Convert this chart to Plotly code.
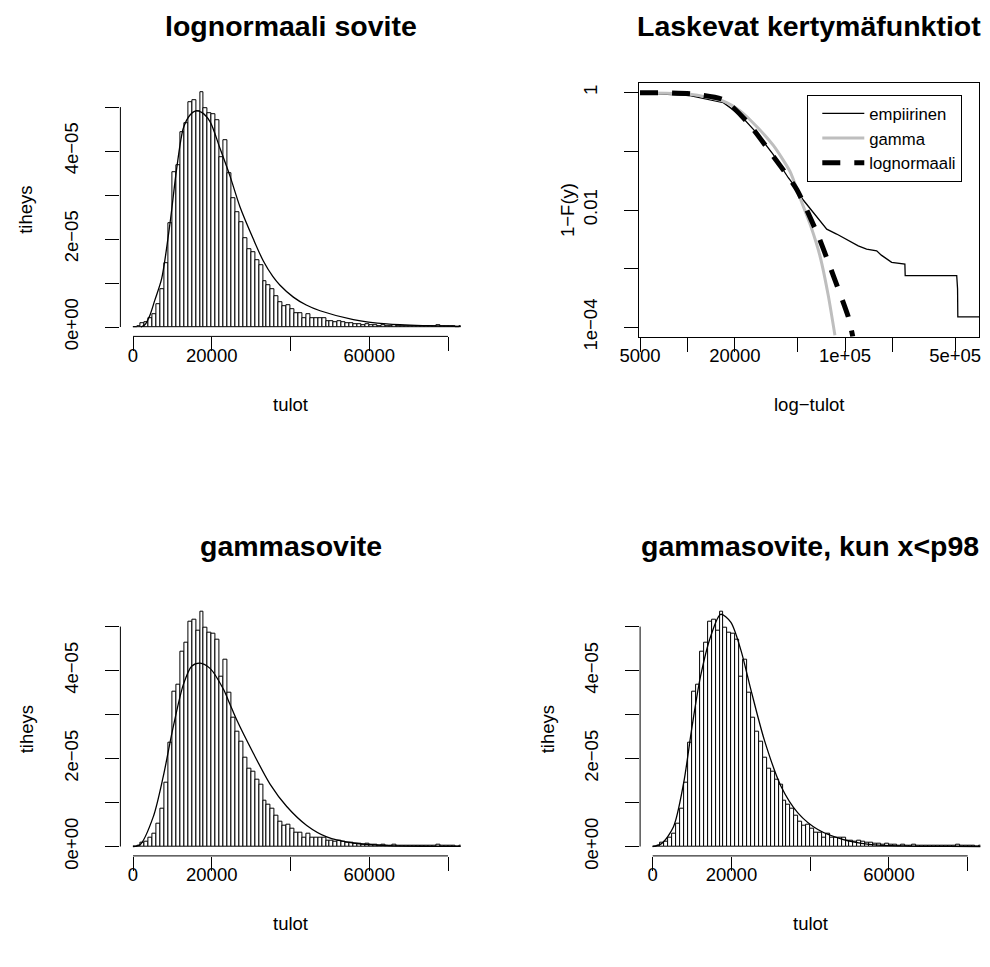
import plotly.graph_objects as go

# ---------------- data ----------------
# histogram of incomes: bin width 1000, density in units of 1e-5
bin_width = 1000
hist_density_e5 = [
    0.00, 0.03, 0.08, 0.12, 0.20, 0.30, 0.52, 0.86, 1.45, 2.36,
    3.51, 3.68, 4.44, 4.64, 5.12, 5.16, 4.90, 5.33, 4.98, 4.87,
    4.84, 4.70, 3.85, 4.25, 3.49, 2.92, 2.60, 2.38, 2.02, 1.78,
    1.69, 1.52, 1.40, 1.05, 0.94, 0.85, 0.70, 0.56, 0.47, 0.50,
    0.40, 0.31, 0.32, 0.21, 0.29, 0.21, 0.20, 0.19, 0.19, 0.13,
    0.13, 0.12, 0.13, 0.11, 0.09, 0.08, 0.07, 0.07, 0.05, 0.06,
    0.05, 0.04, 0.03, 0.04, 0.03, 0.03, 0.05, 0.03, 0.02, 0.03,
    0.02, 0.02, 0.02, 0.01, 0.02, 0.02, 0.01, 0.05, 0.02, 0.01,
    0.01, 0.01, 0.00, 0.01, 0.00,
]

# fitted densities (x in thousands, y in 1e-5)
lognorm_x = [2, 3, 4.3, 5.5, 7.28, 9.4, 11.09, 12.78, 14.48, 15.75, 17.44, 19.56,
             22.1, 24.64, 27.18, 30.56, 33.1, 35.5, 37.34, 40.72, 44, 47.5, 55.96, 64.44, 75, 85]
lognorm_y = [0.0, 0.05, 0.27, 0.6, 1.1, 2.36, 3.6, 4.52, 4.82, 4.91, 4.88, 4.67,
             4.06, 3.43, 2.73, 2.0, 1.5, 1.15, 0.95, 0.68, 0.5, 0.37, 0.17, 0.07, 0.03, 0.01]

gamma_x = [0, 1.78, 5.16, 7.7, 10.24, 12.78, 14.9, 17.02, 19.56, 22.94, 24.6, 26.33,
           30.56, 34.8, 39.04, 44.12, 49.2, 55.96, 65, 75, 85]
gamma_y = [0, 0.04, 0.68, 1.6, 2.73, 3.68, 4.1, 4.17, 4.05, 3.58, 3.24, 2.88,
           2.12, 1.42, 0.91, 0.48, 0.22, 0.08, 0.02, 0.005, 0.001]

gamma98_x = [0, 2.3, 5.28, 7.85, 10.0, 12.13, 14.69, 17.26, 19.82, 22.38, 24.95,
             28.36, 32.64, 36.92, 42.05, 48.0, 55, 65, 75, 85]
gamma98_y = [0, 0.07, 0.45, 1.44, 2.73, 3.86, 4.77, 5.28, 5.1, 4.47, 3.56,
             2.42, 1.36, 0.76, 0.38, 0.17, 0.05, 0.01, 0.002, 0.0]

# survival functions 1-F(y) (top right, log-log)
emp_x = [5000, 10380, 16900, 21580, 27540, 35080, 43650, 46240, 54330, 62810,
         76560, 88510, 104950, 121340, 137090, 150000, 158850, 170000, 183650,
         197700, 239880, 241000, 511700, 512500, 518000, 520000, 720000]
emp_y = [0.995, 0.891, 0.676, 0.419, 0.205, 0.0879, 0.0355, 0.0291, 0.0148, 0.00904,
         0.00471, 0.00389, 0.00299, 0.00245, 0.00216, 0.00210, 0.00202, 0.00170, 0.00146,
         0.00128, 0.0012, 0.00076, 0.00076, 0.000453, 0.000453, 0.000151, 0.000151]

gsurv_x = [5000, 10400, 16900, 21600, 27500, 35100, 44700, 51800, 60000, 69300, 78300, 86300]
gsurv_y = [1.0, 0.94, 0.72, 0.49, 0.265, 0.126, 0.0458, 0.0162, 0.00575, 0.00166, 0.000348, 0.0000731]

lsurv_x = [5000, 10400, 16900, 23800, 35100, 49400, 67600, 84300, 105000, 112000]
lsurv_y = [1.0, 0.955, 0.76, 0.324, 0.0822, 0.0224, 0.00363, 0.000759, 0.00015, 0.00007]

# axis ticks / labels
hist_xticks = [0, 20000, 40000, 60000, 80000]
hist_xlabels = ["0", "20000", "", "60000", ""]
hist_yticks_e5 = [0, 1, 2, 3, 4, 5]
hist_ylabels = ["0e+00", "", "2e\u221205", "", "4e\u221205", ""]
surv_xticks = [5000, 10000, 20000, 50000, 100000, 200000, 500000]
surv_xlabels = ["5000", "", "20000", "", "1e+05", "", "5e+05"]
surv_yticks = [1, 0.1, 0.01, 0.001, 0.0001]
surv_ylabels = ["1", "", "0.01", "", "1e\u221204"]

titles = ["lognormaali sovite", "Laskevat kertym\u00e4funktiot", "gammasovite", "gammasovite, kun x<p98"]

# ---------------- figure ----------------
W, H = 990, 967
FONT = "Liberation Sans, Arial, Helvetica, sans-serif"
TICKF = 18.5

def px_dom_x(a, b):
    return [a / W, b / W]

def px_dom_y(top, bottom):
    return [1 - bottom / H, 1 - top / H]

panels = {
    1: dict(x=px_dom_x(120.4, 460.6), y=px_dom_y(83.2, 336.4)),
    2: dict(x=px_dom_x(639.3, 979.3), y=px_dom_y(83.3, 336.7)),
    3: dict(x=px_dom_x(120.4, 460.6), y=px_dom_y(602.7, 855.9)),
    4: dict(x=px_dom_x(640.1, 980.3), y=px_dom_y(602.7, 855.9)),
}

fig = go.Figure()

bin_centers = [i * bin_width + bin_width / 2 for i in range(len(hist_density_e5))]
hist_density = [v * 1e-5 for v in hist_density_e5]
ymax = max(hist_density)
xlim = (hist_xticks[0], hist_xticks[-1])
xpad = 0.04 * (xlim[1] - xlim[0])

curves = {1: (lognorm_x, lognorm_y), 3: (gamma_x, gamma_y), 4: (gamma98_x, gamma98_y)}
for p in (1, 3, 4):
    xa = "x" if p == 1 else f"x{p}"
    ya = "y" if p == 1 else f"y{p}"
    fig.add_trace(go.Bar(x=bin_centers, y=hist_density, width=bin_width,
                         marker=dict(color="white", line=dict(color="black", width=1)),
                         xaxis=xa, yaxis=ya, showlegend=False, hoverinfo="skip"))
    cx, cy = curves[p]
    fig.add_trace(go.Scatter(x=[v * 1000 for v in cx], y=[v * 1e-5 for v in cy], mode="lines",
                             line=dict(color="black", width=1.3, shape="spline", smoothing=0.8),
                             xaxis=xa, yaxis=ya, showlegend=False, hoverinfo="skip"))

fig.add_trace(go.Scatter(x=emp_x, y=emp_y, mode="lines", name="empiirinen",
                         line=dict(color="black", width=1.3), xaxis="x2", yaxis="y2"))
fig.add_trace(go.Scatter(x=gsurv_x, y=gsurv_y, mode="lines", name="gamma",
                         line=dict(color="#bebebe", width=3, shape="spline", smoothing=0.6),
                         xaxis="x2", yaxis="y2"))
fig.add_trace(go.Scatter(x=lsurv_x, y=lsurv_y, mode="lines", name="lognormaali",
                         line=dict(color="black", width=5, dash="18px,14px", shape="spline", smoothing=0.6),
                         xaxis="x2", yaxis="y2"))

common_tick = dict(ticks="outside", ticklen=14, tickwidth=1, tickcolor="black",
                   showgrid=False, zeroline=False, automargin=False,
                   tickfont=dict(family=FONT, size=TICKF, color="black"))

layout = dict(width=W, height=H, margin=dict(l=0, r=0, t=0, b=0, pad=0, autoexpand=False),
              paper_bgcolor="white", plot_bgcolor="white", bargap=0,
              font=dict(family=FONT, color="black"), showlegend=True,
              legend=dict(x=807.3 / W, y=1 - 95 / H, xanchor="left", yanchor="top",
                          bordercolor="black", borderwidth=1, bgcolor="white",
                          font=dict(family=FONT, size=16.7, color="black"),
                          indentation=9, itemwidth=42, tracegroupgap=0))

XSTANDOFF = -12
YSTANDOFF = 20
shapes = []
for p in (1, 3, 4):
    sx = "" if p == 1 else str(p)
    layout[f"xaxis{sx}"] = dict(domain=panels[p]["x"], anchor=f"y{sx}",
                                range=[xlim[0] - xpad, xlim[1] + xpad],
                                tickvals=hist_xticks, ticktext=hist_xlabels,
                                showline=False, ticklabelstandoff=XSTANDOFF, **common_tick)
    layout[f"yaxis{sx}"] = dict(domain=panels[p]["y"], anchor=f"x{sx}",
                                range=[-0.04 * ymax, 1.04 * ymax],
                                tickvals=[v * 1e-5 for v in hist_yticks_e5], ticktext=hist_ylabels,
                                tickangle=-90, showline=False, ticklabelstandoff=YSTANDOFF, **common_tick)
    shapes.append(dict(type="line", xref=f"x{sx}", yref=f"y{sx} domain",
                       x0=hist_xticks[0], x1=hist_xticks[-1], y0=0, y1=0,
                       line=dict(color="black", width=1)))
    shapes.append(dict(type="line", xref=f"x{sx} domain", yref=f"y{sx}",
                       x0=0, x1=0, y0=hist_yticks_e5[0] * 1e-5, y1=hist_yticks_e5[-1] * 1e-5,
                       line=dict(color="black", width=1)))

layout["xaxis2"] = dict(domain=panels[2]["x"], anchor="y2", type="log", range=[3.6945, 5.8523],
                        tickvals=surv_xticks, ticktext=surv_xlabels,
                        showline=True, mirror=True, linecolor="black", linewidth=1,
                        ticklabelstandoff=XSTANDOFF, **common_tick)
layout["yaxis2"] = dict(domain=panels[2]["y"], anchor="x2", type="log", range=[-4.16, 0.16],
                        tickvals=surv_yticks, ticktext=surv_ylabels, tickangle=-90,
                        showline=True, mirror=True, linecolor="black", linewidth=1,
                        ticklabelstandoff=YSTANDOFF, **common_tick)

annotations = []
centers_x = {p: (panels[p]["x"][0] + panels[p]["x"][1]) / 2 for p in panels}
for i, p in enumerate((1, 2, 3, 4)):
    top_px = 26 if p in (1, 2) else 26 + 519.5
    annotations.append(dict(text=f"<b>{titles[i]}</b>", x=centers_x[p], y=1 - top_px / H,
                            xref="paper", yref="paper", showarrow=False,
                            xanchor="center", yanchor="middle",
                            font=dict(family=FONT, size=28.5, color="black")))
    lab_px = 404 if p in (1, 2) else 404 + 519.5
    xl = "log\u2212tulot" if p == 2 else "tulot"
    annotations.append(dict(text=xl, x=centers_x[p], y=1 - lab_px / H, xref="paper", yref="paper",
                            showarrow=False, xanchor="center", yanchor="middle",
                            font=dict(family=FONT, size=18.5, color="black")))
    yl = "1\u2212F(y)" if p == 2 else "tiheys"
    yl_x = {1: 26, 2: 568, 3: 26, 4: 547}[p]
    yc = (panels[p]["y"][0] + panels[p]["y"][1]) / 2
    annotations.append(dict(text=yl, x=yl_x / W, y=yc, xref="paper", yref="paper",
                            showarrow=False, xanchor="center", yanchor="middle", textangle=-90,
                            font=dict(family=FONT, size=18.5, color="black")))

layout["shapes"] = shapes
layout["annotations"] = annotations
fig.update_layout(**layout)
fig.write_html("out.html")
